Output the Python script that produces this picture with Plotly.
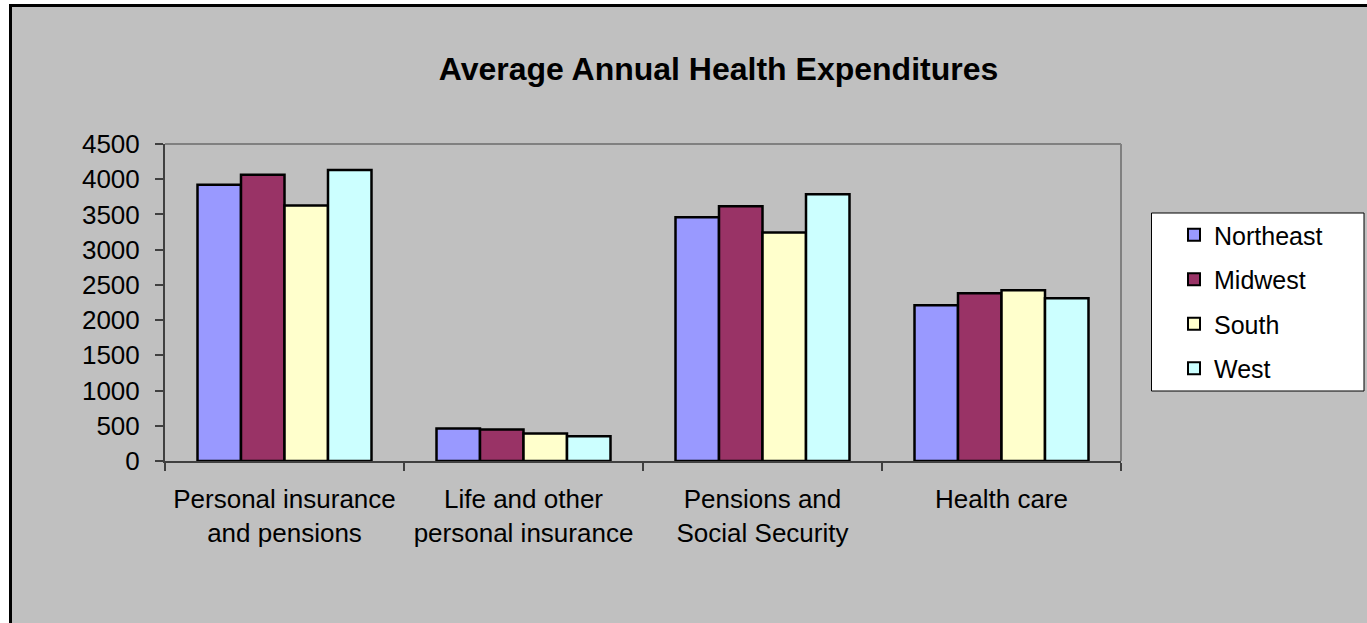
import plotly.graph_objects as go

categories = ["Personal insurance<br>and pensions", "Life and other<br>personal insurance",
              "Pensions and<br>Social Security", "Health care"]
regions = ["Northeast", "Midwest", "South", "West"]
northeast = [3920, 460, 3460, 2210]
midwest = [4065, 446, 3618, 2380]
south = [3626, 390, 3242, 2423]
west = [4130, 351, 3788, 2309]
series_values = [northeast, midwest, south, west]
colors = ["#9999FF", "#993366", "#FFFFCC", "#CCFFFF"]

W, H = 1367, 623
L, R, T, B = 165, 1121, 144, 461
pw, ph = R - L, B - T

def px(x):
    return (x - L) / pw

def py(y):
    return (B - y) / ph

FONT = "Liberation Sans, Arial, sans-serif"

fig = go.Figure()
for name, vals, col in zip(regions, series_values, colors):
    fig.add_trace(go.Bar(x=categories, y=vals, name=name, legendgroup=name,
                         marker=dict(color=col, line=dict(color="black", width=2.5))))

shapes = [
    # outer white strips + black frame
    dict(type="rect", xref="paper", yref="paper", x0=px(-5), x1=px(10), y0=py(640), y1=py(-5),
         fillcolor="white", line=dict(width=0), layer="below"),
    dict(type="rect", xref="paper", yref="paper", x0=px(-5), x1=px(1380), y0=py(5), y1=py(-5),
         fillcolor="white", line=dict(width=0), layer="below"),
    dict(type="line", xref="paper", yref="paper", x0=px(10.5), x1=px(10.5), y0=py(640), y1=py(5),
         line=dict(color="black", width=3)),
    dict(type="line", xref="paper", yref="paper", x0=px(9), x1=px(1380), y0=py(5.5), y1=py(5.5),
         line=dict(color="black", width=3)),
    # plot area border top/right
    dict(type="line", xref="paper", yref="paper", x0=0, x1=1, y0=1, y1=1,
         line=dict(color="#808080", width=2)),
    dict(type="line", xref="paper", yref="paper", x0=1, x1=1, y0=0, y1=1,
         line=dict(color="#808080", width=2)),
    # legend box
    dict(type="rect", xref="paper", yref="paper", x0=px(1151.5), x1=px(1364), y0=py(391), y1=py(213),
         fillcolor="white", line=dict(color="black", width=1), layer="below"),
]

fig.update_layout(
    width=W, height=H,
    margin=dict(l=L, r=W - R, t=T, b=H - B, autoexpand=False),
    paper_bgcolor="#C0C0C0", plot_bgcolor="#C0C0C0",
    font=dict(family=FONT, size=26, color="black"),
    title=dict(text="<b>Average Annual Health Expenditures</b>", font=dict(family=FONT, size=32, color="black"),
               x=718.5 / W, xanchor="center", xref="container",
               y=1 - 69 / H, yanchor="middle", yref="container"),
    barmode="group", bargap=0.272, bargroupgap=0,
    showlegend=True,
    legend=dict(x=px(1174), xanchor="left", y=py(212), yanchor="top",
                bgcolor="rgba(0,0,0,0)", borderwidth=0,
                font=dict(family=FONT, size=25, color="black"),
                tracegroupgap=9, itemsizing="constant"),
    shapes=shapes,
)
fig.update_xaxes(showline=True, linecolor="#404040", linewidth=2, ticks="outside", tickson="boundaries",
                 ticklen=8, tickcolor="#404040", tickwidth=1.5, showgrid=False,
                 tickfont=dict(family=FONT, size=26, color="black"), ticklabelstandoff=14)
fig.update_yaxes(range=[0, 4500], dtick=500, showline=True, linecolor="#404040", linewidth=2,
                 ticks="outside", ticklen=8, tickcolor="#404040", tickwidth=1.5, showgrid=False,
                 zeroline=False, tickfont=dict(family=FONT, size=26, color="black"),
                 ticklabelstandoff=10)

fig.write_html("out.html", config={"displayModeBar": False},
               post_script="document.body.style.margin='0';document.body.style.padding='0';")
